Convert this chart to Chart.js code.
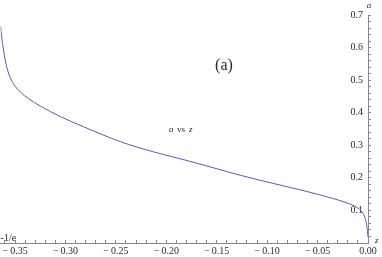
<!DOCTYPE html>
<html>
<head>
<meta charset="utf-8">
<script src="https://cdn.jsdelivr.net/npm/chart.js@4.4.0/dist/chart.umd.min.js"></script>
<style>
  html, body { margin: 0; padding: 0; background: #fff; }
  #wrap { width: 382px; height: 257px; }
</style>
</head>
<body>
<div id="wrap"><canvas id="chart" width="382" height="257"></canvas></div>
<script>
// -------------------------------
// DATA
// -------------------------------
const zValues = [-0.3644, -0.3634, -0.3617, -0.3594, -0.3561, -0.3512, -0.3446, -0.3366, -0.3248, -0.3050,
                 -0.2822, -0.2455, -0.2129, -0.1792, -0.1535, -0.1267, -0.0941, -0.0604, -0.0376, -0.0208,
                 -0.0109, -0.0059, -0.0030, -0.0010, 0.0];
const aValues = [0.665, 0.636, 0.597, 0.556, 0.518, 0.487, 0.463, 0.443, 0.420, 0.388,
                 0.357, 0.311, 0.280, 0.253, 0.231, 0.208, 0.183, 0.158, 0.139, 0.123,
                 0.109, 0.095, 0.077, 0.049, 0.018];

// tick positions (minor + major) and the labelled ones
const xTicks = [-0.36, -0.35, -0.34, -0.33, -0.32, -0.31, -0.30, -0.29, -0.28, -0.27, -0.26, -0.25,
                -0.24, -0.23, -0.22, -0.21, -0.20, -0.19, -0.18, -0.17, -0.16, -0.15, -0.14, -0.13,
                -0.12, -0.11, -0.10, -0.09, -0.08, -0.07, -0.06, -0.05, -0.04, -0.03, -0.02, -0.01, 0.00];
const xLabels = [-0.35, -0.30, -0.25, -0.20, -0.15, -0.10, -0.05, 0.00];
const yTicks = [0.02, 0.04, 0.06, 0.08, 0.10, 0.12, 0.14, 0.16, 0.18, 0.20, 0.22, 0.24, 0.26, 0.28,
                0.30, 0.32, 0.34, 0.36, 0.38, 0.40, 0.42, 0.44, 0.46, 0.48, 0.50, 0.52, 0.54, 0.56,
                0.58, 0.60, 0.62, 0.64, 0.66, 0.68, 0.70];
const yLabels = [0.1, 0.2, 0.3, 0.4, 0.5, 0.6, 0.7];

const SERIF = "'Liberation Serif', 'DejaVu Serif', serif";
const AXIS_COLOR = "#888";
const TEXT_COLOR = "#2a2a2a";

const isLabelled = (v, list) => list.some(m => Math.abs(m - v) < 1e-9);

// -------------------------------
// TEXT OVERLAYS
// -------------------------------
const textPlugin = {
    id: "textOverlay",
    afterDraw(chart) {
        const ctx = chart.ctx;
        const { left, right, bottom } = chart.chartArea;
        ctx.save();
        ctx.fillStyle = TEXT_COLOR;

        // panel tag
        ctx.font = "16px " + SERIF;
        ctx.textAlign = "center";
        ctx.textBaseline = "middle";
        ctx.fillText("(a)", 224, 66);

        // caption "a vs z"
        ctx.font = "italic 9px " + SERIF;
        ctx.textAlign = "left";
        ctx.fillText("a", 169, 130);
        ctx.font = "9px " + SERIF;
        ctx.fillText("vs", 177, 130);
        ctx.font = "italic 9px " + SERIF;
        ctx.fillText("z", 189, 130);

        // axis names
        ctx.font = "italic 9px " + SERIF;
        ctx.textAlign = "center";
        ctx.fillText("a", right + 1, 6);
        ctx.textAlign = "left";
        ctx.fillText("z", right + 7, bottom - 2);

        // -1/e marker at the left end
        ctx.font = "10px " + SERIF;
        ctx.textAlign = "left";
        ctx.textBaseline = "alphabetic";
        ctx.fillText("-1/e", left, bottom - 2);
        ctx.restore();
    }
};

// -------------------------------
// CHART
// -------------------------------
const ctx = document.getElementById("chart").getContext("2d");

new Chart(ctx, {
    type: "line",
    data: {
        datasets: [{
            data: zValues.map((z, i) => ({ x: z, y: aValues[i] })),
            borderColor: "#5a5abd",
            borderWidth: 1,
            pointRadius: 0,
            fill: false,
            cubicInterpolationMode: "monotone"
        }]
    },
    options: {
        responsive: false,
        animation: false,
        devicePixelRatio: 1,
        layout: { padding: { top: 15, left: 0, right: 0, bottom: 0 } },
        plugins: { legend: { display: false }, tooltip: { enabled: false } },
        scales: {
            x: {
                type: "linear",
                position: "bottom",
                min: -0.3644,
                max: 0,
                afterBuildTicks: s => { s.ticks = xTicks.map(v => ({ value: v })); },
                afterFit: s => { s.height = 14; },
                grid: { drawOnChartArea: false, drawTicks: true, tickLength: -3, color: AXIS_COLOR },
                border: { color: AXIS_COLOR, width: 1 },
                ticks: {
                    autoSkip: false,
                    maxRotation: 0,
                    padding: 5,
                    color: TEXT_COLOR,
                    font: { family: SERIF, size: 10 },
                    callback: v => isLabelled(v, xLabels) ? (v < 0 ? "\u2212\u20090" + Math.abs(v).toFixed(2).slice(1) : v.toFixed(2)) : ""
                }
            },
            y: {
                type: "linear",
                position: "right",
                min: 0,
                max: 0.7,
                afterBuildTicks: s => { s.ticks = yTicks.map(v => ({ value: v })); },
                afterFit: s => { s.width = 14; },
                grid: { drawOnChartArea: false, drawTicks: true, tickLength: 3, color: AXIS_COLOR },
                border: { color: AXIS_COLOR, width: 1 },
                ticks: {
                    autoSkip: false,
                    mirror: true,
                    padding: -5,
                    color: TEXT_COLOR,
                    font: { family: SERIF, size: 10 },
                    callback: v => isLabelled(v, yLabels) ? v.toFixed(1) : ""
                }
            }
        }
    },
    plugins: [textPlugin]
});
</script>
</body>
</html>
